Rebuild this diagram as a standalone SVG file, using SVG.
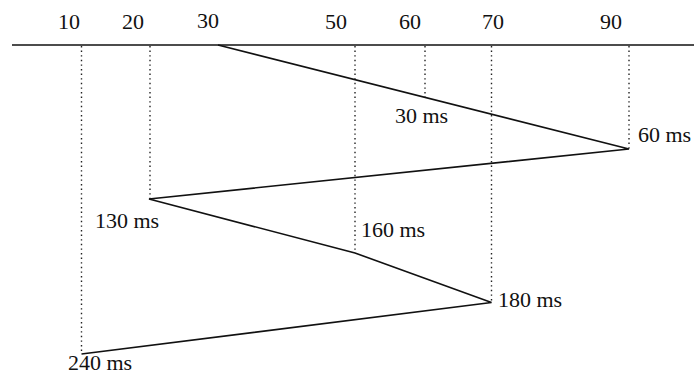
<svg xmlns="http://www.w3.org/2000/svg" width="694" height="374" viewBox="0 0 694 374">
<style>
text{font-family:"Liberation Serif","Times New Roman",serif;font-size:22px;fill:#111}
.dot{stroke:#222;stroke-width:1.4;stroke-dasharray:1.4 3.2;fill:none}
.ln{stroke:#111;stroke-width:1.6;fill:none}
</style>
<rect width="694" height="374" fill="#fff"/>
<g id="axis">
<line class="ln" x1="12" y1="45" x2="694" y2="45"/>
<text x="58" y="29">10</text>
<text x="122" y="29">20</text>
<text x="197" y="28">30</text>
<text x="325" y="29">50</text>
<text x="399" y="29">60</text>
<text x="482" y="29">70</text>
<text x="600" y="29">90</text>
</g>
<g id="guides">
<line class="dot" x1="81.5" y1="46" x2="81.5" y2="354"/>
<line class="dot" x1="150" y1="46" x2="150" y2="199"/>
<line class="dot" x1="355" y1="46" x2="355" y2="253"/>
<line class="dot" x1="425" y1="46" x2="425" y2="97"/>
<line class="dot" x1="491.5" y1="46" x2="491.5" y2="302"/>
<line class="dot" x1="629" y1="46" x2="629" y2="149"/>
</g>
<g id="connectors">
<polyline class="ln" points="218,45 629,149 149,199 355,253 491.5,302.5 81.5,354"/>
</g>
<g id="labels">
<text x="395" y="123">30 ms</text>
<text x="638" y="142">60 ms</text>
<text x="95" y="228">130 ms</text>
<text x="361" y="237">160 ms</text>
<text x="498" y="307">180 ms</text>
<text x="68" y="370">240 ms</text>
</g>
</svg>
